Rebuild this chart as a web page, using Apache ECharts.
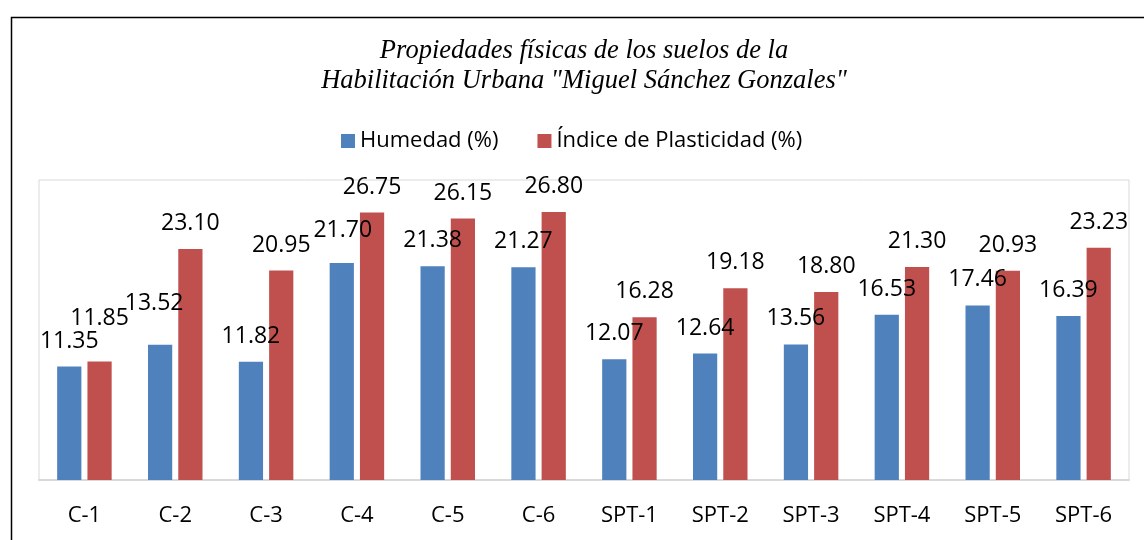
<!DOCTYPE html>
<html>
<head>
<meta charset="utf-8">
<script src="https://cdn.jsdelivr.net/npm/echarts@6/dist/echarts.min.js"></script>
<style>
  html, body { margin: 0; padding: 0; background: #fff; }
  #chart { width: 1144px; height: 540px; }
</style>
</head>
<body>
<div id="chart"></div>
<script>
  // categories and values
  var muestras = ['C-1', 'C-2', 'C-3', 'C-4', 'C-5', 'C-6', 'SPT-1', 'SPT-2', 'SPT-3', 'SPT-4', 'SPT-5', 'SPT-6'];
  var humedad = [11.35, 13.52, 11.82, 21.70, 21.38, 21.27, 12.07, 12.64, 13.56, 16.53, 17.46, 16.39];
  var plasticidad = [11.85, 23.10, 20.95, 26.75, 26.15, 26.80, 16.28, 19.18, 18.80, 21.30, 20.93, 23.23];
  var serieNames = ['Humedad (%)', 'Índice de Plasticidad (%)'];

  // a few labels were moved by hand in the original (index -> [dx, dy])
  var nudgeHum = { 1: [-6, -16], 3: [1, -7] };
  var nudgePla = { 0: [0, -18] };

  function withNudges(vals, nudges) {
    return vals.map(function (v, i) {
      if (!nudges[i]) return v;
      return { value: v, label: { offset: nudges[i] } };
    });
  }

  var labelStyle = {
    show: true,
    position: 'top',
    distance: 14,
    fontFamily: 'Open Sans',
    fontSize: 23,
    color: '#000',
    formatter: function (p) { return p.value.toFixed(2); }
  };

  var option = {
    animation: false,
    backgroundColor: '#fff',
    color: ['#4f81bd', '#c0504d'],
    title: {
      text: 'Propiedades físicas de los suelos de la\nHabilitación Urbana "Miguel Sánchez Gonzales"',
      left: 584,
      top: 36,
      padding: 0,
      textAlign: 'center',
      textStyle: {
        fontFamily: 'Liberation Serif',
        fontStyle: 'italic',
        fontWeight: 'normal',
        fontSize: 26.5,
        lineHeight: 30,
        color: '#000'
      }
    },
    legend: {
      data: serieNames,
      left: 341,
      top: 130,
      padding: 0,
      itemWidth: 14,
      itemHeight: 14,
      itemGap: 39,
      icon: 'rect',
      textStyle: { fontFamily: 'Open Sans', fontSize: 22, color: '#000' }
    },
    grid: {
      left: 39,
      right: 15,
      top: 180,
      bottom: 60,
      show: true,
      borderColor: '#d9d9d9',
      borderWidth: 1
    },
    xAxis: {
      type: 'category',
      data: muestras,
      axisLine: { lineStyle: { color: '#d9d9d9', width: 2 } },
      axisTick: { show: false },
      axisLabel: { margin: 25, fontFamily: 'Open Sans', fontSize: 22, color: '#000' }
    },
    yAxis: {
      type: 'value',
      min: 0,
      max: 30,
      show: false,
      splitLine: { show: false }
    },
    graphic: [{
      type: 'rect',
      left: 9,
      top: 15,
      shape: { width: 1200, height: 600 },
      style: { fill: 'none', stroke: '#000', lineWidth: 1.5 },
      silent: true
    }],
    series: [
      {
        name: serieNames[0],
        type: 'bar',
        data: withNudges(humedad, nudgeHum),
        barGap: '25%',
        barCategoryGap: '40%',
        label: labelStyle
      },
      {
        name: serieNames[1],
        type: 'bar',
        data: withNudges(plasticidad, nudgePla),
        barGap: '25%',
        barCategoryGap: '40%',
        label: labelStyle
      }
    ]
  };

  var chart = echarts.init(document.getElementById('chart'));
  chart.setOption(option);
</script>
</body>
</html>
